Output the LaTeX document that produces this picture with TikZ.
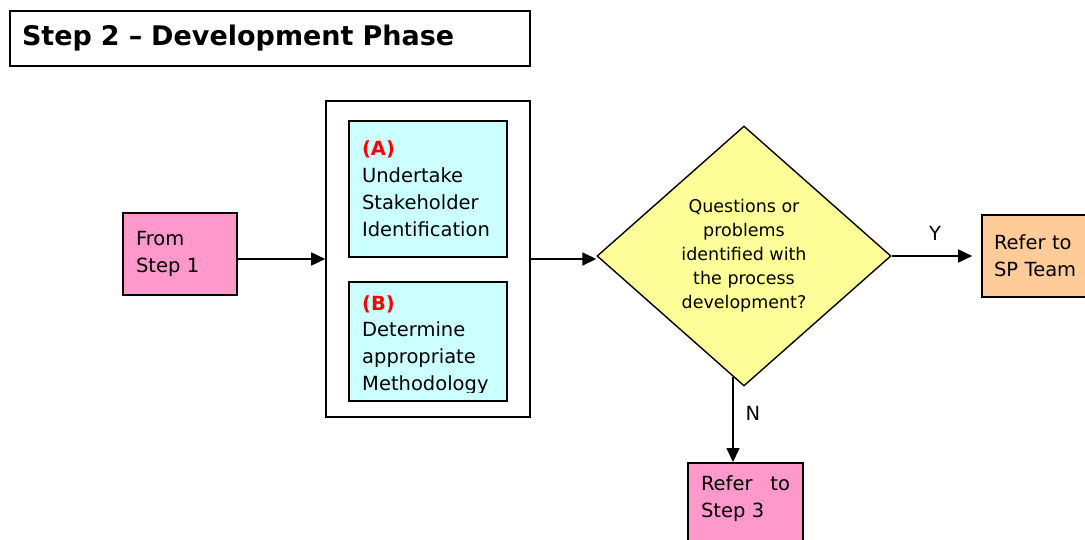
\documentclass[tikz,border=0pt]{standalone}
\usepackage{fontspec}
\setmainfont{DejaVu Sans}
\usetikzlibrary{shapes.geometric,arrows.meta,calc}
\definecolor{pinkbox}{HTML}{FF99CC}
\definecolor{cyanbox}{HTML}{CCFFFF}
\definecolor{yellowbox}{HTML}{FFFF99}
\definecolor{orangebox}{HTML}{FFCC99}
\definecolor{redlabel}{HTML}{FF0000}
\begin{document}
\begin{tikzpicture}[x=1pt,y=-1pt,
  box/.style={draw=black,line width=1.6pt,rectangle,inner sep=0pt,inner xsep=13pt,align=left},
  arr/.style={line width=1.6pt,-{Triangle[length=14pt,width=13pt]}},
  txt/.style={font=\fontsize{19.5}{27}\selectfont}]
\clip (0,0) rectangle (1085,540);
\fill[white] (0,0) rectangle (1085,540);
% title
\node[box,fill=white,minimum width=520pt,minimum height=55pt,text width=496pt,inner xsep=12pt,
      font=\fontsize{27}{30}\selectfont\bfseries] (title) at (270,38.5) {Step 2 – Development Phase};
% from step 1
\node[box,fill=pinkbox,minimum width=114pt,minimum height=82pt,text width=88pt,txt] (from) at (180,254) {From\\Step 1};
% outer container
\node[box,fill=white,minimum width=204pt,minimum height=316pt] (outer) at (428,259) {};
% box A
\node[box,fill=cyanbox,minimum width=158pt,minimum height=136pt,text width=132pt,txt] (A) at (428,189)
  {\textcolor{redlabel}{\bfseries (A)}\\Undertake\\Stakeholder\\Identification};
% box B
\node[box,fill=cyanbox,minimum width=158pt,minimum height=119pt] (B) at (428,341.5) {};
\begin{scope}
  \clip (350,283) rectangle (506,392);
  \node[inner sep=0pt,text width=132pt,align=left,anchor=base west,txt] (Btext) at (362,310)
    {\textcolor{redlabel}{\bfseries (B)}\\Determine\\appropriate\\Methodology};
\end{scope}
% decision
\node[draw,line width=1.4pt,diamond,fill=yellowbox,minimum width=294pt,minimum height=260pt,inner sep=0pt,
      align=center,font=\fontsize{17.5}{24}\selectfont] (dia) at (744,256)
  {Questions or\\problems\\identified with\\the process\\development?};
% refer to SP team
\node[box,fill=orangebox,minimum width=128pt,minimum height=82pt,text width=104pt,inner xsep=12pt,txt] (sp) at (1046,256)
  {Refer to\\SP Team};
% refer to step 3
\node[box,fill=pinkbox,minimum width=115pt,text width=89pt,inner xsep=13pt,inner ysep=13pt,anchor=north,
      text depth=80pt,txt] (s3) at (745.5,462) {Refer\hfill to\\Step 3};
% connectors
\draw[arr] (from.east |- outer.west) -- (outer.west);
\draw[arr] (outer.east) -- (outer.east -| dia.west);
\draw[arr,shorten >=9pt] (dia.east) -- (sp.west);
\coordinate (dn) at (733,377);
\draw[arr] (dn) -- (dn |- s3.north);
% labels
\node[txt,inner sep=0pt] (Y) at (935,233) {Y};
\node[txt,inner sep=0pt] (N) at (753,413) {N};
\end{tikzpicture}
\end{document}
